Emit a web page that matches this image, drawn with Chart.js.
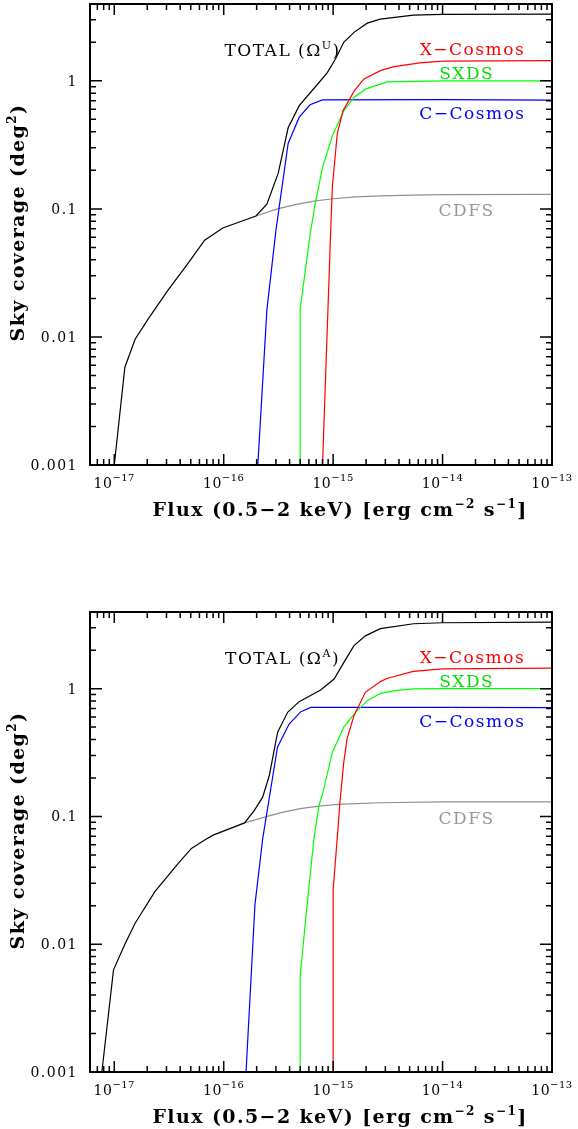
<!DOCTYPE html>
<html>
<head>
<meta charset="utf-8">
<script src="https://cdn.jsdelivr.net/npm/chart.js@4"></script>
<style>
  body { margin: 0; background: #fff; overflow: hidden; }
  canvas { position: absolute; left: 0; }
</style>
</head>
<body>
<canvas id="chartU" width="578" height="522" style="top:0"></canvas>
<canvas id="chartA" width="578" height="522" style="top:607px"></canvas>
<script>
// Sky coverage vs. flux limit, 0.5-2 keV. Flux in erg cm^-2 s^-1, area in deg^2.

// --- upper panel (Omega^U) ---
const totalUFlux = [1.0e-17, 1.25e-17, 1.55e-17, 2.05e-17, 3.1e-17, 4.7e-17, 6.7e-17, 9.8e-17, 1.97e-16, 2.48e-16, 3.15e-16, 3.88e-16, 4.9e-16, 7.2e-16, 8.85e-16, 1.05e-15, 1.25e-15, 1.55e-15, 2.05e-15, 2.7e-15, 5.4e-15, 1.0e-14, 1.0e-13];
const totalUArea = [0.001, 0.0058, 0.0096, 0.0139, 0.0232, 0.0374, 0.057, 0.071, 0.088, 0.109, 0.19, 0.43, 0.64, 0.94, 1.16, 1.48, 2.0, 2.39, 2.82, 3.03, 3.26, 3.30, 3.32];
const xcosmosUFlux = [8.0e-16, 9.5e-16, 9.85e-16, 1.09e-15, 1.23e-15, 1.55e-15, 1.9e-15, 2.7e-15, 3.6e-15, 6.2e-15, 1.0e-14, 1.0e-13];
const xcosmosUArea = [0.001, 0.068, 0.151, 0.383, 0.583, 0.826, 1.03, 1.2, 1.29, 1.38, 1.425, 1.44];
const sxdsUFlux = [5.0e-16, 5.0e-16, 6.24e-16, 6.93e-16, 8.0e-16, 9.85e-16, 1.25e-15, 1.55e-15, 1.97e-15, 2.7e-15, 3.1e-15, 1.0e-14, 1.0e-13];
const sxdsUArea = [0.001, 0.0167, 0.068, 0.1155, 0.21, 0.372, 0.583, 0.742, 0.861, 0.942, 0.982, 1.0, 1.0];
const ccosmosUFlux = [2.05e-16, 2.48e-16, 3.0e-16, 3.88e-16, 4.9e-16, 6.15e-16, 8.0e-16, 1.0e-14, 1.0e-13];
const ccosmosUArea = [0.001, 0.0162, 0.068, 0.324, 0.52, 0.65, 0.71, 0.712, 0.708];
const cdfsUFlux = [1.97e-16, 3.1e-16, 4.5e-16, 6.9e-16, 1.0e-15, 1.6e-15, 2.7e-15, 5.5e-15, 1.0e-14, 1.0e-13];
const cdfsUArea = [0.088, 0.100, 0.108, 0.1155, 0.120, 0.124, 0.1265, 0.128, 0.129, 0.130];

// --- lower panel (Omega^A) ---
const totalAFlux = [7.7e-18, 9.84e-18, 1.25e-17, 1.55e-17, 2.35e-17, 3.84e-17, 5.07e-17, 6.7e-17, 8.0e-17, 1.55e-16, 1.9e-16, 2.27e-16, 2.61e-16, 3.11e-16, 3.84e-16, 4.89e-16, 7.69e-16, 1.02e-15, 1.25e-15, 1.55e-15, 1.97e-15, 2.7e-15, 5.43e-15, 1.0e-14, 1.0e-13];
const totalAArea = [0.001, 0.0063, 0.010, 0.0146, 0.0258, 0.043, 0.0562, 0.0653, 0.0714, 0.089, 0.111, 0.1415, 0.209, 0.456, 0.653, 0.791, 0.975, 1.19, 1.6, 2.17, 2.59, 2.95, 3.22, 3.28, 3.32];
const xcosmosAFlux = [1.0e-15, 1.0e-15, 1.09e-15, 1.15e-15, 1.25e-15, 1.34e-15, 1.55e-15, 1.97e-15, 2.7e-15, 3.1e-15, 5.4e-15, 1.0e-14, 1.0e-13];
const xcosmosAArea = [0.001, 0.0267, 0.0676, 0.125, 0.265, 0.404, 0.615, 0.936, 1.135, 1.2, 1.365, 1.43, 1.45];
const sxdsAFlux = [5.0e-16, 5.0e-16, 5.62e-16, 6.68e-16, 7.43e-16, 8.0e-16, 9.85e-16, 1.25e-15, 1.6e-15, 2.05e-15, 2.7e-15, 3.8e-15, 5.4e-15, 1.0e-14, 1.0e-13];
const sxdsAArea = [0.001, 0.0056, 0.016, 0.0673, 0.122, 0.150, 0.318, 0.50, 0.653, 0.806, 0.919, 0.97, 0.995, 1.0, 1.0];
const ccosmosAFlux = [1.6e-16, 1.93e-16, 2.27e-16, 3.1e-16, 3.96e-16, 5.07e-16, 6.24e-16, 1.0e-14, 1.0e-13];
const ccosmosAArea = [0.001, 0.0204, 0.0667, 0.348, 0.529, 0.661, 0.714, 0.714, 0.711];
const cdfsAFlux = [1.55e-16, 2.5e-16, 3.34e-16, 5.0e-16, 7.7e-16, 1.2e-15, 2.7e-15, 1.0e-14, 1.0e-13];
const cdfsAArea = [0.089, 0.100, 0.107, 0.115, 0.121, 0.125, 0.128, 0.130, 0.130];

// axis ticks
const xTickValues = [1e-17, 1e-16, 1e-15, 1e-14, 1e-13];
const xTickExponents = ["\u221217", "\u221216", "\u221215", "\u221214", "\u221213"];
const yTickValues = [0.001, 0.01, 0.1, 1];
const yTickLabels = ["0.001", "0.01", "0.1", "1"];

const FONT = '"DejaVu Serif", "Liberation Serif", serif';

function points(xs, ys) {
  return xs.map((v, i) => ({ x: v, y: ys[i] }));
}

// draw a run of text pieces (base + superscripts) centred on x
function drawPieces(ctx, pieces, x, y, spacing, align) {
  ctx.letterSpacing = spacing + "px";
  ctx.textAlign = "left";
  let total = 0;
  pieces.forEach(p => {
    ctx.font = p.font;
    p.w = ctx.measureText(p.text).width;
    total += p.w;
  });
  let cx = align === "right" ? x - total : x - total / 2;
  pieces.forEach(p => {
    ctx.font = p.font;
    ctx.fillStyle = p.color || ctx.fillStyle;
    ctx.fillText(p.text, cx, y + (p.dy || 0));
    cx += p.w;
  });
}

// box, inward ticks on all four sides, labels, titles and curve names
const smFrame = {
  id: "smFrame",
  afterDraw(chart, args, opts) {
    const { ctx, chartArea: a, scales: { x, y } } = chart;
    ctx.save();
    ctx.strokeStyle = "#000";
    ctx.fillStyle = "#000";
    ctx.lineWidth = 1.5;
    ctx.beginPath();
    for (let d = -18; d <= -13; d++) {
      for (let m = 1; m <= 9; m++) {
        const v = m * Math.pow(10, d);
        if (v < x.min * 1.0001 || v > x.max * 0.9999) continue;
        const px = x.getPixelForValue(v);
        const len = m === 1 ? 11 : 6;
        ctx.moveTo(px, a.bottom); ctx.lineTo(px, a.bottom - len);
        ctx.moveTo(px, a.top); ctx.lineTo(px, a.top + len);
      }
    }
    for (let d = -3; d <= 0; d++) {
      for (let m = 1; m <= 9; m++) {
        const v = m * Math.pow(10, d);
        if (v < y.min * 0.9999 || v > y.max * 0.9999) continue;
        const py = y.getPixelForValue(v);
        const len = m === 1 ? 12 : 6;
        ctx.moveTo(a.left, py); ctx.lineTo(a.left + len, py);
        ctx.moveTo(a.right, py); ctx.lineTo(a.right - len, py);
      }
    }
    ctx.stroke();
    ctx.lineWidth = 2;
    ctx.strokeRect(a.left, a.top, a.right - a.left, a.bottom - a.top);

    // tick labels
    ctx.textBaseline = "alphabetic";
    xTickValues.forEach((v, i) => {
      drawPieces(ctx, [
        { text: "10", font: "14px " + FONT },
        { text: xTickExponents[i], font: "10px " + FONT, dy: -7 }
      ], x.getPixelForValue(v), a.bottom + 23, 0.5, "center");
    });
    yTickValues.forEach((v, i) => {
      drawPieces(ctx, [{ text: yTickLabels[i], font: "14px " + FONT }],
        a.left - 12, y.getPixelForValue(v) + 5, 1.5, "right");
    });

    // axis titles
    const bold = "bold 19px " + FONT;
    const boldSup = "bold 12px " + FONT;
    drawPieces(ctx, [
      { text: "Flux (0.5\u22122 keV) [erg cm", font: bold },
      { text: "\u22122", font: boldSup, dy: -8 },
      { text: " s", font: bold },
      { text: "\u22121", font: boldSup, dy: -8 },
      { text: "]", font: bold }
    ], (a.left + a.right) / 2 + 19, a.bottom + 51, 1.4, "center");

    ctx.save();
    ctx.translate(24, a.top + 218.5);
    ctx.rotate(-Math.PI / 2);
    drawPieces(ctx, [
      { text: "Sky coverage (deg", font: bold },
      { text: "2", font: boldSup, dy: -8 },
      { text: ")", font: bold }
    ], 0, 0, 1.4, "center");
    ctx.restore();

    // curve names
    const lab = "17px " + FONT;
    opts.names.forEach(n => {
      const px = x.getPixelForValue(n.x);
      const py = y.getPixelForValue(n.y);
      const pieces = [{ text: n.text, font: lab, color: n.color }];
      if (n.sup) {
        pieces.push({ text: n.sup, font: "11px " + FONT, dy: -7, color: n.color });
        pieces.push({ text: ")", font: lab, color: n.color });
      }
      drawPieces(ctx, pieces, px, py, 1.5, "center");
    });
    ctx.restore();
  }
};

function makePanel(id, s, omegaSup, padTop) {
  const line = (data, color, order) => ({
    data: data, borderColor: color, borderWidth: 1.2, pointRadius: 0,
    tension: 0, fill: false, order: order
  });
  return new Chart(document.getElementById(id), {
    type: "line",
    data: {
      datasets: [
        line(points(s.total[0], s.total[1]), "#000000", 0),
        line(points(s.xcosmos[0], s.xcosmos[1]), "#ff0000", 1),
        line(points(s.sxds[0], s.sxds[1]), "#00ff00", 2),
        line(points(s.ccosmos[0], s.ccosmos[1]), "#0000ff", 3),
        line(points(s.cdfs[0], s.cdfs[1]), "#909090", 4)
      ]
    },
    options: {
      responsive: false,
      animation: false,
      layout: { padding: { left: 90, right: 26, top: padTop, bottom: 57 } },
      scales: {
        x: { type: "logarithmic", min: 6.2e-18, max: 1e-13, display: false },
        y: { type: "logarithmic", min: 0.001, max: 3.98, display: false }
      },
      plugins: {
        legend: { display: false },
        tooltip: { enabled: false },
        smFrame: {
          names: [
            { text: "TOTAL (\u03a9", sup: omegaSup, x: 3.45e-16, y: 1.57, color: "#000000" },
            { text: "X\u2212Cosmos", x: 1.875e-14, y: 1.58, color: "#ff0000" },
            { text: "SXDS", x: 1.66e-14, y: 1.03, color: "#00dd00" },
            { text: "C\u2212Cosmos", x: 1.875e-14, y: 0.5, color: "#0000ff" },
            { text: "CDFS", x: 1.66e-14, y: 0.088, color: "#999999" }
          ]
        }
      }
    },
    plugins: [smFrame]
  });
}

makePanel("chartU", {
  total: [totalUFlux, totalUArea],
  xcosmos: [xcosmosUFlux, xcosmosUArea],
  sxds: [sxdsUFlux, sxdsUArea],
  ccosmos: [ccosmosUFlux, ccosmosUArea],
  cdfs: [cdfsUFlux, cdfsUArea]
}, "U", 4);

makePanel("chartA", {
  total: [totalAFlux, totalAArea],
  xcosmos: [xcosmosAFlux, xcosmosAArea],
  sxds: [sxdsAFlux, sxdsAArea],
  ccosmos: [ccosmosAFlux, ccosmosAArea],
  cdfs: [cdfsAFlux, cdfsAArea]
}, "A", 5);
</script>
</body>
</html>
